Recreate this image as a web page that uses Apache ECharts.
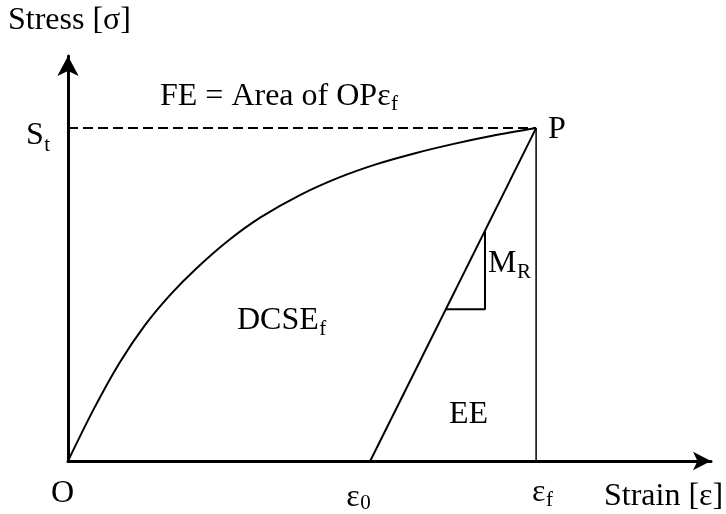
<!DOCTYPE html>
<html><head><meta charset="utf-8">
<script src="https://cdn.jsdelivr.net/npm/echarts@6/dist/echarts.min.js"></script>
<style>html,body{margin:0;padding:0;background:#fff}#c{width:726px;height:514px}</style>
</head><body><div id="c"></div>
<script>
// ---- data (axis units: 0..100 on both axes) ----
const curveStrain = [0, 4, 8, 12, 16, 20, 25, 30, 36, 42, 48, 54, 60, 66, 72.8];
const curveStress = [0, 12.8, 24.2, 33.6, 41.2, 47.6, 54.5, 60.2, 65.6, 69.9, 73.3, 76.0, 78.3, 80.3, 82.2];
const peakStrain = 72.8;   // εf
const peakStress = 82.2;   // St
const eps0 = 47.0;         // ε0
const slopeTriStrain = [64.85, 64.85, 58.75];
const slopeTriStress = [57.0, 37.5, 37.5];
const axisNames = {x: 'Strain [ε]', y: 'Stress [σ]'};
const tickLabels = {origin: 'O', eps0: ['ε', '0'], epsf: ['ε', 'f'], st: ['S', 't']};
const areaLabels = {fe: ['FE = Area of OPε', 'f'], dcse: ['DCSE', 'f'], ee: 'EE', mr: ['M', 'R'], p: 'P'};

const pairs = (xs, ys) => xs.map((x, i) => [x, ys[i]]);
const chart = echarts.init(document.getElementById('c'), null, {renderer: 'canvas'});
const black = '#000';
const axisCommon = {
  type: 'value', min: 0, max: 100,
  splitLine: {show: false}, axisTick: {show: false}, axisLabel: {show: false}
};
chart.setOption({
  animation: false,
  backgroundColor: '#fff',
  grid: {left: 68, right: 15, top: 56, bottom: 53},
  xAxis: Object.assign({}, axisCommon, {
    axisLine: {show: true, symbol: ['none', 'arrow'], symbolSize: [14, 18], lineStyle: {color: black, width: 3}}
  }),
  yAxis: Object.assign({}, axisCommon, {
    axisLine: {show: true, symbol: ['none', 'arrow'], symbolSize: [16, 20], lineStyle: {color: black, width: 3}}
  }),
  series: [
    {type: 'line', data: pairs(curveStrain, curveStress), smooth: 0.3, showSymbol: false,
     lineStyle: {color: black, width: 2}, clip: false},
    {type: 'line', data: [[0, peakStress], [peakStrain, peakStress]], showSymbol: false,
     lineStyle: {color: black, width: 2, type: [10, 5]}, clip: false},
    {type: 'line', data: [[eps0, 0], [peakStrain, peakStress]], showSymbol: false,
     lineStyle: {color: black, width: 2}, clip: false},
    {type: 'line', data: [[peakStrain, 0], [peakStrain, peakStress]], showSymbol: false,
     lineStyle: {color: black, width: 1.5}, clip: false},
    {type: 'line', data: pairs(slopeTriStrain, slopeTriStress), showSymbol: false,
     lineStyle: {color: black, width: 2}, clip: false}
  ]
});

const FONT = '"Liberation Serif", "Times New Roman", serif';
const MAIN = 32, SUB = 21;
const ctx = document.createElement('canvas').getContext('2d');
function textW(t, size) { ctx.font = size + 'px ' + FONT; return ctx.measureText(t).width; }
const els = [];
function label(main, sub, x, y, drop) {
  els.push({type: 'text', x: x, y: y, z: 100, style: {text: main, font: MAIN + 'px ' + FONT, fill: black,
    align: 'left', verticalAlign: 'middle'}});
  if (sub) {
    els.push({type: 'text', x: x + textW(main, MAIN) + 0.5, y: y + drop, z: 100, style: {text: sub,
      font: SUB + 'px ' + FONT, fill: black, align: 'left', verticalAlign: 'middle'}});
  }
}
const px = (a, b) => chart.convertToPixel({gridIndex: 0}, [a, b]);
const pP = px(peakStrain, peakStress);
const pE0 = px(eps0, 0);
const pEf = px(peakStrain, 0);
const pO = px(0, 0);

label(axisNames.y, null, 8, 21, 0);
label(axisNames.x, null, 604, 497, 0);
label(tickLabels.st[0], tickLabels.st[1], 26, pP[1] + 8, 9);
label(areaLabels.fe[0], areaLabels.fe[1], 160, 97, 7);
label(areaLabels.p, null, pP[0] + 12, pP[1] + 2, 0);
label(areaLabels.mr[0], areaLabels.mr[1], 488, 264, 8);
label(areaLabels.dcse[0], areaLabels.dcse[1], 237, 321, 8);
label(areaLabels.ee, null, 449, 415, 0);
label(tickLabels.origin, null, pO[0] - 17, 494, 0);
label(tickLabels.eps0[0], tickLabels.eps0[1], pE0[0] - 24, 498, 5);
label(tickLabels.epsf[0], tickLabels.epsf[1], pEf[0] - 4, 493, 7);

chart.setOption({graphic: els});
</script>
</body></html>
